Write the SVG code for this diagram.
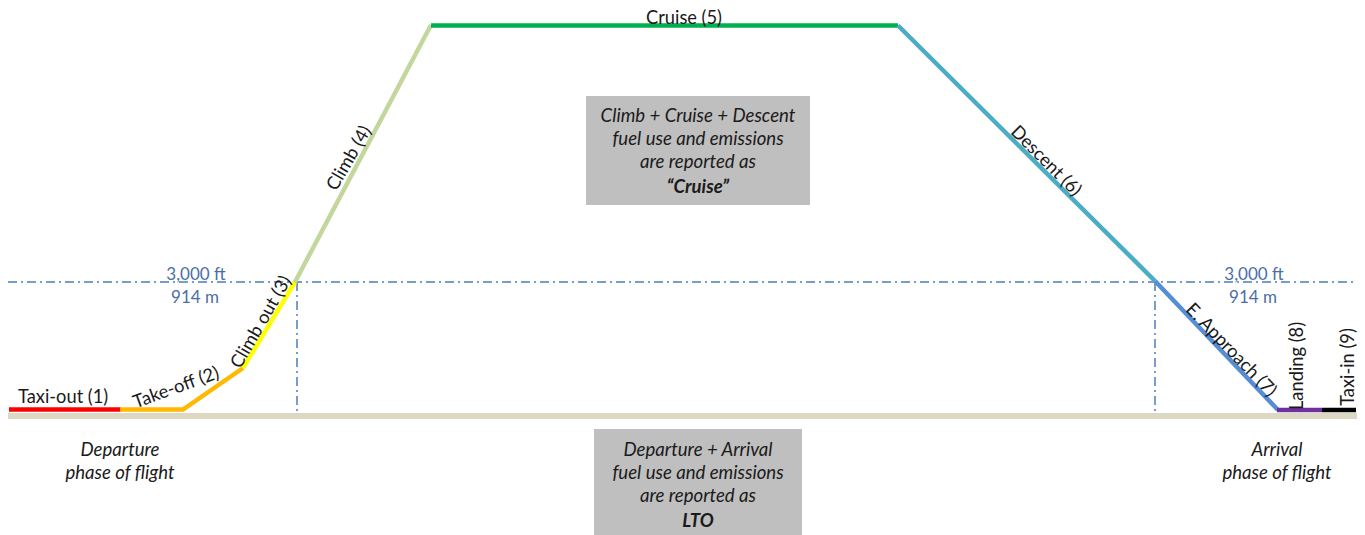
<svg xmlns="http://www.w3.org/2000/svg" width="1365" height="535" viewBox="0 0 1365 535">
<style>
.lbl{font-family:Lato,"Liberation Sans",sans-serif;font-size:18.3px;fill:#1a1a1a}
.alt{font-family:Lato,"Liberation Sans",sans-serif;font-size:17px;fill:#4a6ea8}
.it{font-family:Lato,"Liberation Sans",sans-serif;font-size:18.6px;font-style:italic;fill:#1a1a1a;text-anchor:middle}
.bx{fill:#bfbfbf}
.seg{fill:none;stroke-width:4.5;stroke-linecap:butt;stroke-linejoin:miter}
.dd{fill:none;stroke:#4a7ebb;stroke-width:1.5;stroke-dasharray:9 4 2 4}
</style>
<rect width="1365" height="535" fill="#ffffff"/>
<g id="connectors">
<line class="dd" x1="8" y1="282" x2="1356" y2="282"/>
<line class="dd" x1="297" y1="282" x2="297" y2="413"/>
<line class="dd" x1="1155" y1="282" x2="1155" y2="413"/>
<line id="ground" x1="8" y1="416" x2="1357" y2="416" stroke="#ddd8c4" stroke-width="6"/>
<polyline class="seg" points="9,409.5 121,409.5" stroke="#ff0000"/>
<polyline class="seg" points="120,409.5 183,409.5 243,368" stroke="#ffb900"/>
<polyline class="seg" points="243,368 295,282" stroke="#ffff00"/>
<polyline class="seg" points="295,282 431,25" stroke="#c3d69b"/>
<polyline class="seg" points="431,25.5 898,25.5" stroke="#00b050"/>
<polyline class="seg" points="898,25.5 1155,281" stroke="#4bacc6"/>
<polyline class="seg" points="1155,281 1278,410" stroke="#558ed5"/>
<polyline class="seg" points="1277,410 1322,410" stroke="#7030a0"/>
<polyline class="seg" points="1322,410 1356,410" stroke="#000000"/>
</g>
<g id="phase-labels">
<text class="lbl" x="18" y="403">Taxi-out (1)</text>
<text class="lbl" text-anchor="middle" transform="translate(178,393) rotate(-20)">Take-off (2)</text>
<text class="lbl" text-anchor="middle" transform="translate(266,325) rotate(-60)">Climb out (3)</text>
<text class="lbl" text-anchor="middle" transform="translate(354,161) rotate(-60)">Climb (4)</text>
<text class="lbl" text-anchor="middle" x="684" y="24">Cruise (5)</text>
<text class="lbl" text-anchor="middle" transform="translate(1042,165) rotate(45)">Descent (6)</text>
<text class="lbl" text-anchor="middle" transform="translate(1227,354) rotate(46)">E. Approach (7)</text>
<text class="lbl" text-anchor="middle" transform="translate(1303,366) rotate(-90)">Landing (8)</text>
<text class="lbl" text-anchor="middle" transform="translate(1354,367) rotate(-90)">Taxi-in (9)</text>
</g>
<g id="altitude-left">
<text class="alt" text-anchor="middle" x="196" y="280">3,000 ft</text>
<text class="alt" text-anchor="middle" x="195" y="303">914 m</text>
</g>
<g id="altitude-right">
<text class="alt" text-anchor="middle" x="1254" y="280">3,000 ft</text>
<text class="alt" text-anchor="middle" x="1253" y="303">914 m</text>
</g>
<g id="cruise-box">
<rect class="bx" x="586" y="96" width="224" height="109"/>
<text class="it" x="698" y="122">Climb + Cruise + Descent</text>
<text class="it" x="698" y="145">fuel use and emissions</text>
<text class="it" x="698" y="168">are reported as</text>
<text class="it" x="698" y="193" font-weight="bold">“Cruise”</text>
</g>
<g id="lto-box">
<rect class="bx" x="594" y="429" width="208" height="106"/>
<text class="it" x="698" y="456">Departure + Arrival</text>
<text class="it" x="698" y="479">fuel use and emissions</text>
<text class="it" x="698" y="502">are reported as</text>
<text class="it" x="698" y="527" font-weight="bold">LTO</text>
</g>
<g id="departure-note">
<text class="it" x="120" y="456">Departure</text>
<text class="it" x="120" y="479">phase of flight</text>
</g>
<g id="arrival-note">
<text class="it" x="1277" y="456">Arrival</text>
<text class="it" x="1277" y="479">phase of flight</text>
</g>
</svg>
